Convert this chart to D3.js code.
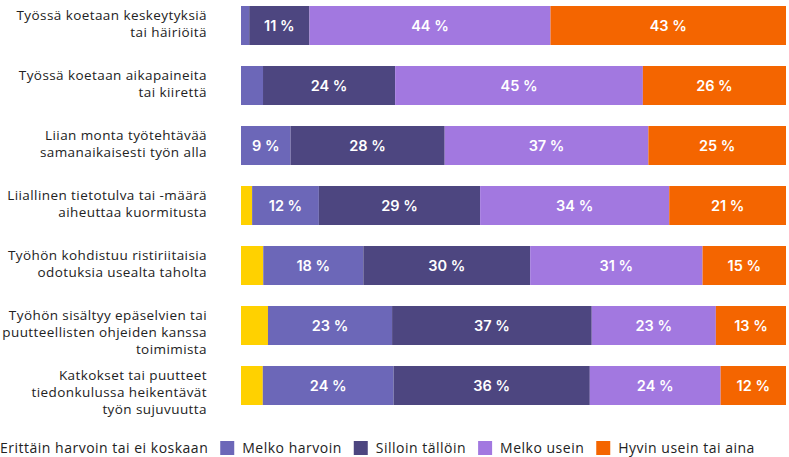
<!DOCTYPE html>
<html>
<head>
<meta charset="utf-8">
<script src="https://cdn.jsdelivr.net/npm/d3@7"></script>
<style>
  html, body { margin: 0; padding: 0; background: #fff; }
  svg { display: block; }
</style>
</head>
<body>
<div id="container"></div>
<script>
const width = 789, height = 457;

// --- Data ---
const categories = [
  ["Työssä koetaan keskeytyksiä", "tai häiriöitä"],
  ["Työssä koetaan aikapaineita", "tai kiirettä"],
  ["Liian monta työtehtävää", "samanaikaisesti työn alla"],
  ["Liiallinen tietotulva tai -määrä", "aiheuttaa kuormitusta"],
  ["Työhön kohdistuu ristiriitaisia", "odotuksia usealta taholta"],
  ["Työhön sisältyy epäselvien tai", "puutteellisten ohjeiden kanssa", "toimimista"],
  ["Katkokset tai puutteet", "tiedonkulussa heikentävät", "työn sujuvuutta"]
];
const seriesNames = [
  "Erittäin harvoin tai ei koskaan",
  "Melko harvoin",
  "Silloin tällöin",
  "Melko usein",
  "Hyvin usein tai aina"
];
const erittainHarvoin = [0, 0, 0, 2, 4, 5, 4];
const melkoHarvoin   = [1.5, 4, 9, 12, 18, 23, 24];
const silloinTalloin = [11, 24, 28, 29, 30, 37, 36];
const melkoUsein     = [44, 45, 37, 34, 31, 23, 24];
const hyvinUsein     = [43, 26, 25, 21, 15, 13, 12];
const colors = ["#ffd100", "#6c67b8", "#4d4680", "#a278e0", "#f46500"];

const seriesValues = [erittainHarvoin, melkoHarvoin, silloinTalloin, melkoUsein, hyvinUsein];
const rows = categories.map((c, i) => {
  const r = { key: i };
  seriesNames.forEach((s, j) => { r[s] = seriesValues[j][i]; });
  return r;
});

// each row fills the full width (values are rounded percentages)
const stacked = d3.stack().keys(seriesNames).offset(d3.stackOffsetExpand)(rows);

// --- Layout ---
const x = d3.scaleLinear().domain([0, 1]).range([241, 786]);
const y = d3.scaleBand().domain(d3.range(categories.length)).range([6, 405]).paddingInner(0.35).paddingOuter(0);
const barH = y.bandwidth();

const labelFont = "'Open Sans', sans-serif";

const svg = d3.select("#container").append("svg")
  .attr("width", width).attr("height", height);

// --- Bars ---
svg.append("g").selectAll("g").data(stacked).join("g")
  .attr("fill", (d, i) => colors[i])
  .selectAll("rect").data(d => d).join("rect")
  .attr("x", d => x(d[0]))
  .attr("y", (d, i) => y(i))
  .attr("width", d => x(d[1]) - x(d[0]))
  .attr("height", barH);

// --- Value labels (small segments left unlabelled) ---
svg.append("g").selectAll("g").data(stacked).join("g")
  .each(function (s, si) {
    d3.select(this).selectAll("text")
      .data(s.map((d, i) => ({ d, i, v: seriesValues[si][i] })).filter(o => o.v >= 6))
      .join("text")
      .attr("x", o => (x(o.d[0]) + x(o.d[1])) / 2)
      .attr("y", o => y(o.i) + barH / 2 + 5.5)
      .attr("text-anchor", "middle")
      .attr("fill", "#fff")
      .style("font-family", "Inter, sans-serif")
      .style("font-size", "14.5px")
      .style("font-weight", "600")
      .text(o => `${o.v} %`);
  });

// --- Category labels ---
const catG = svg.append("g");
categories.forEach((lines, i) => {
  const t = catG.append("text")
    .attr("x", 207)
    .attr("y", y(i) + 14)
    .attr("text-anchor", "end")
    .attr("fill", "#222")
    .style("font-family", labelFont)
    .style("font-size", "13.5px")
    .style("letter-spacing", "0.42px");
  lines.forEach((ln, k) => {
    t.append("tspan").attr("x", 207).attr("dy", k === 0 ? 0 : 17).text(ln);
  });
});

// --- Legend ---
const legend = svg.append("g").attr("transform", "translate(0,441)");
let lx = -22;
seriesNames.forEach((name, i) => {
  legend.append("rect")
    .attr("x", lx).attr("y", 0)
    .attr("width", 14).attr("height", 14)
    .attr("fill", colors[i]);
  const t = legend.append("text")
    .attr("x", lx + 22).attr("y", 12)
    .attr("fill", "#222")
    .style("font-family", labelFont)
    .style("font-size", "14px")
    .style("letter-spacing", "0.5px")
    .text(name);
  lx += 22 + t.node().getComputedTextLength() + 12;
});
</script>
</body>
</html>
